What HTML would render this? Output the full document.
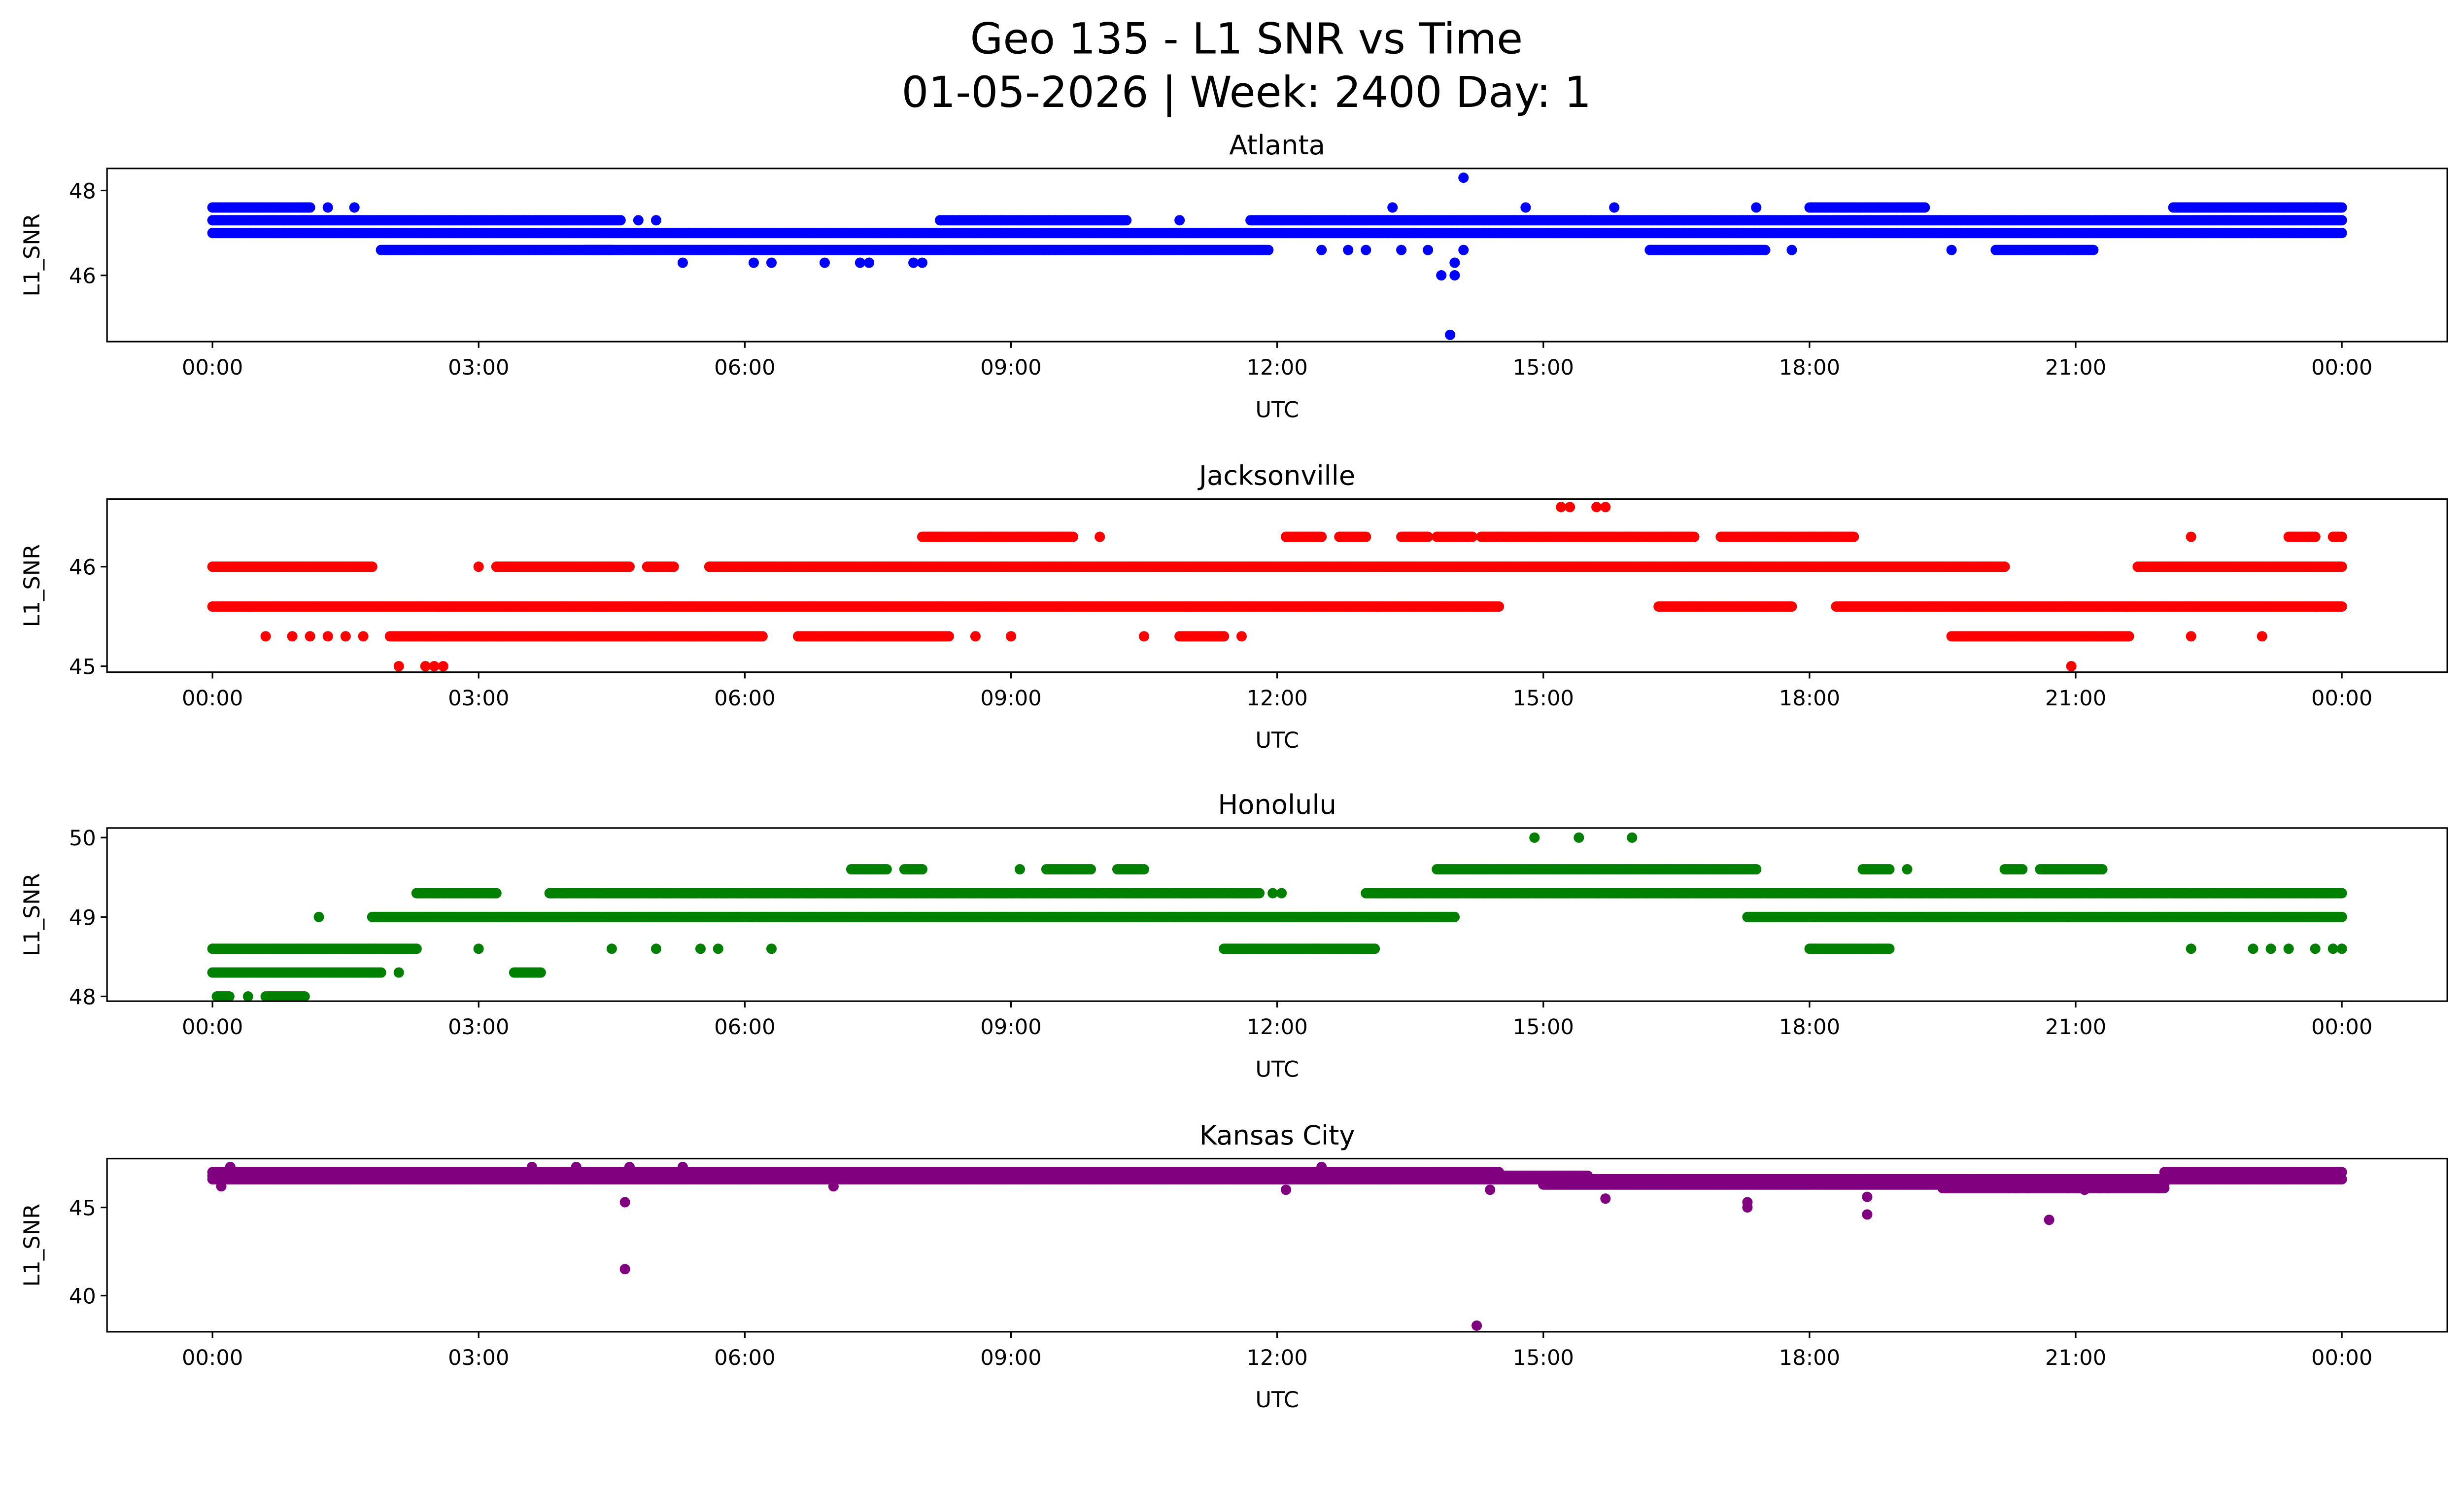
<!DOCTYPE html>
<html><head><meta charset="utf-8">
<style>
html,body{margin:0;padding:0;background:#fff;overflow:hidden;}
svg{display:block;font-family:"DejaVu Sans","Liberation Sans",sans-serif;}
</style></head>
<body>
<svg id="fig" xmlns="http://www.w3.org/2000/svg" width="5225" height="3033" viewBox="0 0 1636 949.7" preserveAspectRatio="xMinYMin meet">
<rect width="1636" height="950" fill="#fff"/>
<text x="792" y="34" font-size="27" text-anchor="middle">Geo 135 - L1 SNR vs Time</text>
<text x="792" y="68" font-size="27" text-anchor="middle">01-05-2026 | Week: 2400 Day: 1</text>
<g id="panels"></g>
</svg>
<script>
// Atlanta runs: [level, startHour, endHour]
const atlRuns=[[47.0,0,24],[47.3,0,4.6],[47.3,8.2,10.3],[47.3,11.7,24],[47.6,0,1.1],[47.6,18.0,19.3],[47.6,22.1,24],[46.6,1.9,4.5],[46.6,4.2,11.9],[46.6,16.2,17.5],[46.6,20.1,21.2]];
const atlPts=[[47.6,1.3],[47.6,1.6],[47.6,13.3],[47.6,14.8],[47.6,15.8],[47.6,17.4],[47.3,4.8],[47.3,5.0],[47.3,10.9],[46.6,12.5],[46.6,12.8],[46.6,13.0],[46.6,13.4],[46.6,13.7],[46.6,14.1],[46.6,17.8],[46.6,19.6],[46.3,5.3],[46.3,6.1],[46.3,6.3],[46.3,6.9],[46.3,7.3],[46.3,7.4],[46.3,7.9],[46.3,8.0],[48.3,14.1],[46.0,13.85],[46.0,14.0],[46.3,14.0],[44.6,13.95]];
// Jacksonville
const jaxRuns=[[46.0,0,1.8],[46.0,3.2,4.7],[46.0,4.9,5.2],[46.0,5.6,20.2],[46.0,21.7,24],[45.6,0,14.5],[45.6,16.3,17.8],[45.6,18.3,24],[45.3,2.0,6.2],[45.3,6.6,8.3],[45.3,10.9,11.4],[45.3,19.6,21.6],[46.3,8.0,9.7],[46.3,12.1,12.5],[46.3,12.7,13.0],[46.3,13.4,13.7],[46.3,13.8,14.2],[46.3,14.3,16.7],[46.3,17.0,18.5],[46.3,23.4,23.7],[46.3,23.9,24]];
const jaxPts=[[46.0,3.0],[45.3,0.6],[45.3,0.9],[45.3,1.1],[45.3,1.3],[45.3,1.5],[45.3,1.7],[45.3,8.6],[45.3,9.0],[45.3,10.5],[45.3,11.6],[45.3,22.3],[45.3,23.1],[46.3,10.0],[46.3,22.3],[46.6,15.2],[46.6,15.3],[46.6,15.6],[46.6,15.7],[45.0,2.1],[45.0,2.4],[45.0,2.5],[45.0,2.6],[45.0,20.95]];
// Honolulu
const honRuns=[[48.6,0,2.3],[48.6,11.4,13.1],[48.6,18.0,18.9],[48.3,0,1.9],[48.3,3.4,3.7],[48.0,0.05,0.2],[48.0,0.6,1.05],[49.0,1.8,14.0],[49.0,17.3,24],[49.3,2.3,3.2],[49.3,3.8,11.8],[49.3,13.0,24],[49.6,7.2,7.6],[49.6,7.8,8.0],[49.6,9.4,9.9],[49.6,10.2,10.5],[49.6,13.8,17.4],[49.6,18.6,18.9],[49.6,20.2,20.4],[49.6,20.6,21.3]];
const honPts=[[48.6,3.0],[48.6,4.5],[48.6,5.0],[48.6,5.5],[48.6,5.7],[48.6,6.3],[48.6,22.3],[48.6,23.0],[48.6,23.2],[48.6,23.4],[48.6,23.7],[48.6,23.9],[48.6,24],[48.3,2.1],[48.0,0.4],[49.0,1.2],[49.3,11.95],[49.3,12.05],[49.6,9.1],[49.6,19.1],[50.0,14.9],[50.0,15.4],[50.0,16.0]];
// Kansas City
const kcRuns=[[46.8,0,15.5],[46.6,0,24],[47.0,0,14.5],[47.0,22,24],[46.3,15,22],[46.1,19.5,22]];
const kcPts=[[45.3,4.65],[41.5,4.65],[38.3,14.25],[45.5,15.7],[45.0,17.3],[45.3,17.3],[44.6,18.65],[45.6,18.65],[44.3,20.7],[46.0,12.1],[46.0,14.4],[46.0,21.1],[46.2,7.0],[47.3,0.2],[47.3,3.6],[47.3,4.1],[47.3,5.3],[47.3,12.5],[47.3,4.7],[46.2,0.1]];

const xTickLabels=["00:00","03:00","06:00","09:00","12:00","15:00","18:00","21:00","00:00"];
const panels=[
 {name:"atlanta",title:"Atlanta",color:"#0000ff",runs:atlRuns,pts:atlPts,top:107,bot:217,ymin:44.44,ymax:48.52,ticks:[46,48]},
 {name:"jacksonville",title:"Jacksonville",color:"#ff0000",runs:jaxRuns,pts:jaxPts,top:317,bot:427,ymin:44.94,ymax:46.68,ticks:[45,46]},
 {name:"honolulu",title:"Honolulu",color:"#008000",runs:honRuns,pts:honPts,top:526,bot:636,ymin:47.94,ymax:50.12,ticks:[48,49,50]},
 {name:"kansas-city",title:"Kansas City",color:"#800080",runs:kcRuns,pts:kcPts,top:736,bot:846,ymin:37.95,ymax:47.77,ticks:[40,45]}
];
const NS="http://www.w3.org/2000/svg";
const L=68,R=1555;
function xs(h){return 135+h*(1488-135)/24;}
function mk(tag,attrs,parent){const e=document.createElementNS(NS,tag);for(const k in attrs)e.setAttribute(k,attrs[k]);parent.appendChild(e);return e;}
const root=document.getElementById('panels');
panels.forEach(p=>{
 const ys=v=>p.bot-(v-p.ymin)/(p.ymax-p.ymin)*(p.bot-p.top);
 const g=mk('g',{},root);
 
 
 const t=mk('text',{x:(L+R)/2,y:p.top-9,'font-size':17,'text-anchor':'middle'},g);
 t.textContent=p.title;
 
 
 const clip=mk('clipPath',{id:'c'+p.name},g);
 mk('rect',{x:L,y:p.top,width:R-L,height:p.bot-p.top},clip);
 const pts=mk('g',{fill:p.color,'clip-path':'url(#c'+p.name+')'},g);
 
 
 p.runs.forEach(r=>{
   for(let h=r[1];h<=r[2]+1e-9;h+=0.02){
     const c=mk('circle',{cx:xs(h).toFixed(1),cy:ys(r[0]).toFixed(1),r:3.3},pts);
   }
 });
 p.pts.forEach(q=>{
   const c=mk('circle',{cx:xs(q[1]).toFixed(1),cy:ys(q[0]).toFixed(1),r:3.3},pts);
   
   
 });
 const frame=mk('rect',{x:L,y:p.top,width:R-L,height:p.bot-p.top,fill:'none',stroke:'#000','stroke-width':1},g);
 
 
 xTickLabels.forEach((lab,i)=>{
   const x=xs(i*3);
   mk('line',{x1:x,x2:x,y1:p.bot,y2:p.bot+4,stroke:'#000','stroke-width':1},g);
   const tl=mk('text',{x:x,y:p.bot+21,'font-size':13.5,'text-anchor':'middle'},g);
   tl.textContent=lab;
   
   
 });
 p.ticks.forEach(v=>{
   const y=ys(v);
   mk('line',{x1:L-4,x2:L,y1:y,y2:y,stroke:'#000','stroke-width':1},g);
   const tl=mk('text',{x:L-7,y:y+5,'font-size':13.5,'text-anchor':'end'},g);
   tl.textContent=v;
   
   
 });
 const xl=mk('text',{x:(L+R)/2,y:p.bot+48,'font-size':14,'text-anchor':'middle'},g);
 xl.textContent="UTC";
 
 
 const cy=(p.top+p.bot)/2;
 const yl=mk('text',{x:25,y:cy,'font-size':14,'text-anchor':'middle',transform:'rotate(-90 25 '+cy+')'},g);
 yl.textContent="L1_SNR";
 
 
});
</script>
</body></html>
